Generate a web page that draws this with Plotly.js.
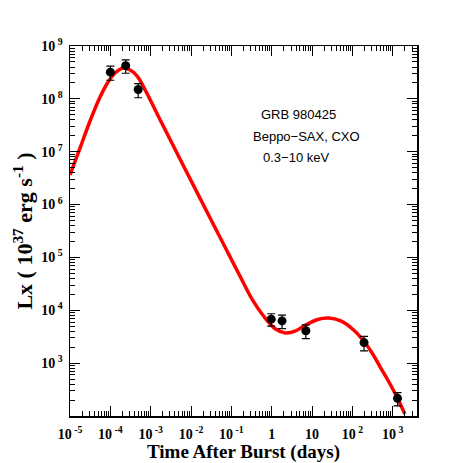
<!DOCTYPE html>
<html>
<head>
<meta charset="utf-8">
<script src="https://cdn.plot.ly/plotly-3.0.1.min.js"></script>
<style>
	body { margin: 0; background: #fff; }
</style>
</head>
<body>
<div id="lc"></div>
<script>
var serif = "Liberation Serif, Times New Roman, serif";

// model light curve
var model_t = [1.0e-5, 1.77e-5, 3.14e-5, 5.56e-5, 8.79e-5, 1.31e-4, 2.07e-4, 3.10e-4, 4.62e-4, 7.30e-4,
	1.72e-3, 0.0170, 0.1675, 0.333, 0.624, 1.24, 2.20, 3.89, 6.90, 13.7,
	25.7, 51.1, 107, 190, 318, 504, 752, 1059, 1493, 1988];
var model_lx = [3.63e6, 1.17e7, 3.81e7, 1.08e8, 2.08e8, 3.08e8, 3.84e8, 3.52e8, 2.70e8, 1.47e8,
	3.98e7, 1.28e6, 4.27e4, 1.57e4, 7.80e3, 4.43e3, 3.72e3, 4.06e3, 5.27e3, 6.70e3,
	7.14e3, 6.28e3, 4.24e3, 2.62e3, 1.49e3, 809, 480, 297, 176, 109];

// Beppo-SAX / CXO points
var obs_t = [1.0e-4, 2.4e-4, 4.9e-4, 0.97, 1.8, 7.0, 194, 1310];
var obs_lx = [3.2e8, 4.25e8, 1.5e8, 6.8e3, 6.3e3, 4.1e3, 2.45e3, 216];
var obs_err = [0.95e8, 1.2e8, 0.45e8, 1.8e3, 1.8e3, 1.2e3, 0.75e3, 60];

var xtick_vals = [1e-5, 1e-4, 1e-3, 1e-2, 1e-1, 1, 10, 100, 1000];
var xtick_text = ["10<sup> -5</sup>", "10<sup> -4</sup>", "10<sup> -3</sup>", "10<sup> -2</sup>",
	"10<sup> -1</sup>", "1", "10", "10<sup> 2</sup>", "10<sup> 3</sup>"];
var ytick_vals = [1e3, 1e4, 1e5, 1e6, 1e7, 1e8, 1e9];
var ytick_text = ["10<sup> 3</sup>", "10<sup> 4</sup>", "10<sup> 5</sup>", "10<sup> 6</sup>",
	"10<sup> 7</sup>", "10<sup> 8</sup>", "10<sup> 9</sup>"];

var model = {
	mode: "lines",
	x: model_t,
	y: model_lx,
	line: {
		shape: "spline",
		color: "#ff0000",
		width: 3.5
	}
};

var obs = {
	mode: "markers",
	x: obs_t,
	y: obs_lx,
	marker: { color: "black", size: 9 },
	error_y: {
		type: "data",
		array: obs_err,
		color: "black",
		thickness: 1.2,
		width: 4
	}
};

var axis_common = {
	type: "log",
	showgrid: false,
	zeroline: false,
	showline: true,
	linecolor: "black",
	linewidth: 1.5,
	mirror: "allticks",
	ticks: "inside",
	ticklen: 10,
	tickwidth: 1,
	tickcolor: "black",
	tickmode: "array",
	tickfont: { family: serif, size: 14, weight: "bold", color: "black" },
	minor: { ticks: "inside", ticklen: 5, tickwidth: 1, tickcolor: "black", dtick: "D1" }
};

var layout = {
	width: 463,
	height: 463,
	paper_bgcolor: "white",
	plot_bgcolor: "white",
	showlegend: false,
	margin: { l: 70, r: 46, t: 46, b: 47 },
	xaxis: Object.assign({}, axis_common, {
		range: [-5, 3.6],
		tickvals: xtick_vals,
		ticktext: xtick_text,
		ticklabelstandoff: 5,
		title: {
			text: "Time After Burst (days)",
			font: { family: serif, size: 19, weight: "bold", color: "black" },
			standoff: 4
		}
	}),
	yaxis: Object.assign({}, axis_common, {
		range: [2, 9],
		tickvals: ytick_vals,
		ticktext: ytick_text,
		ticklabelstandoff: 3,
		title: {
			text: "Lx ( 10<sup>37</sup> erg s<sup>-1</sup> )",
			font: { family: serif, size: 22, weight: "bold", color: "black" },
			standoff: 2
		}
	}),
	annotations: [
		{ text: "GRB 980425", xref: "paper", yref: "paper", x: 0.545, y: 0.814, xanchor: "left", yanchor: "middle", showarrow: false,
			font: { family: "Liberation Sans, Arial, sans-serif", size: 13, color: "black" } },
		{ text: "Beppo\u2212SAX, CXO", xref: "paper", yref: "paper", x: 0.522, y: 0.756, xanchor: "left", yanchor: "middle", showarrow: false,
			font: { family: "Liberation Sans, Arial, sans-serif", size: 13, color: "black" } },
		{ text: "0.3\u221210 keV", xref: "paper", yref: "paper", x: 0.55, y: 0.70, xanchor: "left", yanchor: "middle", showarrow: false,
			font: { family: "Liberation Sans, Arial, sans-serif", size: 13, color: "black" } }
	]
};

Plotly.newPlot("lc", [model, obs], layout, { displayModeBar: false, staticPlot: true });
</script>
</body>
</html>
